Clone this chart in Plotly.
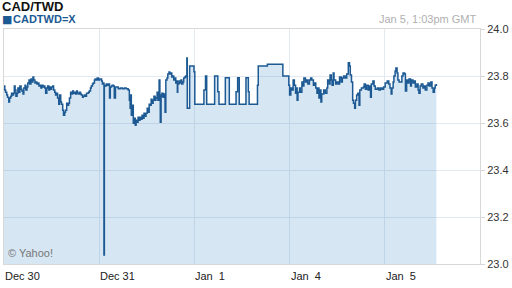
import plotly.graph_objects as go

# Time axis: hours on a compressed trading timeline (weekend removed)
# 0 = Dec 30 00:00, 24 = Dec 31, 48 = Jan 1, 72 = Jan 4, 96 = Jan 5
hours = [
    0, 0.2, 0.4, 0.7, 0.9, 1.2, 1.4, 1.7, 1.9, 2.2, 2.4, 2.6, 2.8, 3.0, 3.3, 3.5, 3.8, 4.0, 4.3, 4.5,
    4.8, 5.0, 5.3, 5.5, 5.8, 6.0, 6.3, 6.5, 6.8, 7.0, 7.3, 7.5, 7.8, 8.0, 8.3, 8.5, 8.8, 9.0, 9.3, 9.5,
    9.8, 10.0, 10.3, 10.5, 10.8, 11.0, 11.3, 11.5, 11.8, 12.0, 12.3, 12.5, 12.8, 13.0, 13.3, 13.5, 13.8,
    14.0, 14.3, 14.5, 14.8, 15.0, 15.3, 15.5, 15.8, 16.0, 16.3, 16.5, 16.8, 17.0, 17.3, 17.5, 17.8, 18.0,
    18.3, 18.5, 18.8, 19.0, 19.3, 19.5, 19.8, 20.0, 20.3, 20.5, 20.8, 21.3, 21.5, 21.8, 22.0, 22.3, 22.5,
    22.8, 23.0, 23.3, 23.5, 23.8, 24.1, 24.3, 24.6, 24.8, 25.1, 25.2, 25.3, 25.6, 25.8, 26.1, 26.3, 26.6,
    26.8, 27.1, 27.3, 27.6, 27.8, 28.1,
    28.3, 28.8, 29.3, 29.8, 30.3, 30.8, 31.3, 31.6, 31.8, 31.9, 32.1, 32.3, 32.6, 32.8, 33.1, 33.3, 33.6,
    33.8, 34.1, 34.3, 34.6, 34.8, 35.1, 35.3, 35.6, 35.8, 36.1, 36.3, 36.6, 36.8, 37.1, 37.3, 37.6, 37.8,
    38.1, 38.3, 38.6, 38.8, 39.1, 39.3, 39.4, 39.6, 39.8, 40.1, 40.3, 40.6, 40.8, 41.1, 41.3, 41.6, 41.8,
    42.1, 42.3, 42.6, 42.8, 43.1, 43.3, 43.6, 43.7, 43.8, 44.1, 44.3, 44.6, 44.8, 45.1, 45.3, 45.6, 45.8,
    46.1, 46.2, 46.8, 47.9,
    48.1, 50.4, 50.8, 51.1, 53.1, 53.9, 54.2, 55.8, 56.8, 58.5, 58.9, 59.3, 61.0, 61.6, 61.8, 63.9, 64.1,
    66.4, 70.3,
    71.8, 72.0, 72.3, 72.6, 72.9, 73.2, 73.5, 73.7, 73.9, 74.1, 74.5, 74.7, 75.1, 75.4, 75.6, 76.0, 76.3,
    76.6, 77.0, 77.3, 77.6, 78.0, 78.3, 78.6, 78.9, 79.1, 79.4, 79.6, 79.9, 80.1, 80.6, 81.0, 81.4, 81.6,
    82.0, 82.2, 82.5, 82.7, 83.0, 83.2, 83.6, 83.9, 84.3, 84.6, 85.0, 85.3,
    85.6, 86.0, 86.4, 86.8, 87.1, 87.3, 87.6, 87.9, 88.1, 88.4, 88.6, 88.9, 89.2, 89.5, 89.7, 90.1, 90.6,
    90.8, 91.1, 91.4, 91.8, 92.1, 92.4, 92.6, 93.0, 93.3, 93.6, 94.1, 94.5, 94.9, 95.3, 95.7, 96.1, 96.6,
    97.0, 97.3, 97.6, 97.8, 98.1, 98.3, 98.6, 98.8, 99.1, 99.3, 99.6, 100.0, 100.3, 100.6, 101.0, 101.2,
    101.5, 101.8, 102.1, 102.5, 102.7, 103.1, 103.4, 103.7, 104.1, 104.4, 104.6, 104.9, 105.2, 105.6,
    105.9, 106.2, 106.6, 106.9, 107.2, 107.6, 107.9, 108.2, 108.5, 108.7, 109.0,
]

prices = [
    23.757, 23.740, 23.731, 23.719, 23.710, 23.689, 23.706, 23.714, 23.727, 23.719, 23.727, 23.757, 23.740,
    23.714, 23.727, 23.749, 23.731, 23.757, 23.744, 23.736, 23.723, 23.749, 23.761, 23.740, 23.753, 23.770,
    23.783, 23.766, 23.787, 23.774, 23.796, 23.783, 23.770, 23.774, 23.766, 23.770, 23.757, 23.761, 23.749,
    23.761, 23.753, 23.757, 23.749, 23.727, 23.749, 23.757, 23.740, 23.753, 23.744, 23.753, 23.757, 23.740,
    23.731, 23.719, 23.727, 23.706, 23.680, 23.719, 23.689, 23.680, 23.654, 23.633, 23.646, 23.654, 23.684,
    23.676, 23.684, 23.706, 23.731, 23.723, 23.736, 23.727, 23.731, 23.723, 23.736, 23.727, 23.723, 23.731,
    23.723, 23.719, 23.710, 23.714, 23.719, 23.714, 23.727, 23.731, 23.736, 23.749, 23.757, 23.766, 23.770,
    23.783, 23.787, 23.783, 23.791, 23.783, 23.787, 23.787, 23.779, 23.766, 23.770, 23.038, 23.761, 23.757,
    23.766, 23.761, 23.766, 23.706, 23.753, 23.757, 23.761, 23.757, 23.706, 23.753,
    23.753, 23.746, 23.749, 23.746, 23.749, 23.746, 23.740, 23.697, 23.663, 23.719, 23.633, 23.676, 23.599,
    23.620, 23.590, 23.612, 23.603, 23.624, 23.612, 23.624, 23.616, 23.633, 23.620, 23.642, 23.629, 23.642,
    23.663, 23.646, 23.680, 23.676, 23.701, 23.684, 23.697, 23.714, 23.697, 23.706, 23.731, 23.697, 23.783,
    23.719, 23.603, 23.714, 23.727, 23.710, 23.723, 23.646, 23.783, 23.791, 23.808, 23.817, 23.808, 23.813,
    23.796, 23.800, 23.783, 23.791, 23.770, 23.779, 23.731, 23.766, 23.779, 23.770, 23.783, 23.766, 23.774,
    23.791, 23.796, 23.800, 23.877, 23.663, 23.843, 23.818,
    23.680, 23.740, 23.800, 23.680, 23.800, 23.733, 23.680, 23.793, 23.680, 23.733, 23.793, 23.680, 23.793,
    23.733, 23.680, 23.761, 23.843, 23.850, 23.800,
    23.761, 23.719, 23.749, 23.740, 23.783, 23.761, 23.727, 23.749, 23.697, 23.731, 23.749, 23.731, 23.774,
    23.757, 23.791, 23.774, 23.783, 23.766, 23.783, 23.791, 23.783, 23.761, 23.770, 23.749, 23.727, 23.749,
    23.706, 23.740, 23.689, 23.723, 23.740, 23.727, 23.749, 23.783, 23.766, 23.804, 23.783, 23.761, 23.813,
    23.783, 23.766, 23.774, 23.766, 23.796, 23.774, 23.791,
    23.800, 23.791, 23.808, 23.856, 23.843, 23.804, 23.774, 23.697, 23.684, 23.663, 23.697, 23.719, 23.727,
    23.676, 23.740, 23.749, 23.753, 23.766, 23.744, 23.761, 23.740, 23.757, 23.710, 23.766, 23.779, 23.757,
    23.744, 23.749, 23.740, 23.749, 23.744, 23.753, 23.770, 23.779, 23.766, 23.749, 23.723, 23.749, 23.774,
    23.800, 23.821, 23.834, 23.813, 23.783, 23.774, 23.774, 23.800, 23.813, 23.808, 23.736, 23.783, 23.770,
    23.787, 23.757, 23.783, 23.770, 23.779, 23.753, 23.766, 23.740, 23.727, 23.757, 23.766, 23.749, 23.757,
    23.740, 23.761, 23.770, 23.757, 23.774, 23.749, 23.731, 23.749, 23.761, 23.766,
]

tick_hours = [0, 24, 48, 72, 96]
tick_labels = ["Dec 30", "Dec 31", "Jan  1", "Jan  4", "Jan  5"]
y_ticks = [23.0, 23.2, 23.4, 23.6, 23.8, 24.0]

FONT = "Arial, Liberation Sans, sans-serif"
LINE = "#1d5a94"

fig = go.Figure()
fig.add_trace(go.Scatter(
    x=hours, y=prices, mode="lines", line=dict(color=LINE, width=1.5, shape="hv"),
    fill="tozeroy", fillcolor="rgba(70,140,200,0.22)", hoverinfo="skip", showlegend=False,
))

fig.update_layout(
    width=512, height=288, margin=dict(l=3, r=30, t=29, b=24),
    paper_bgcolor="white", plot_bgcolor="white",
    font=dict(family=FONT, size=11, color="#333333"),
    xaxis=dict(
        range=[0, 120], tickvals=tick_hours, showticklabels=False,
        showgrid=True, gridcolor="#e2e9f0", gridwidth=1, zeroline=False,
        showline=True, linecolor="#d8d8d8", mirror=True, ticks="",
    ),
    yaxis=dict(
        range=[23.0, 24.0], tickvals=y_ticks, tickformat=".1f", side="right",
        showgrid=True, gridcolor="#e2e9f0", gridwidth=1, zeroline=False,
        showline=True, linecolor="#d8d8d8", mirror=True,
        ticks="outside", ticklen=4, tickcolor="#d8d8d8",
        tickfont=dict(family=FONT, size=11, color="#333333"),
    ),
)

for h, lab in zip(tick_hours, tick_labels):
    fig.add_annotation(x=h, y=0, xref="x", yref="paper", text=lab, showarrow=False,
                       xanchor="left", yanchor="top", xshift=-1, yshift=-4,
                       font=dict(family=FONT, size=11, color="#222222"))

fig.add_annotation(x=0, y=1, xref="paper", yref="paper", text="<b>CAD/TWD</b>",
                   showarrow=False, xanchor="left", yanchor="bottom", xshift=-4, yshift=13,
                   font=dict(family=FONT, size=13, color="#111111"))
fig.add_annotation(x=0, y=1, xref="paper", yref="paper", text="\u25A0",
                   showarrow=False, xanchor="left", yanchor="bottom", xshift=-4, yshift=1,
                   font=dict(family="DejaVu Sans", size=11, color=LINE))
fig.add_annotation(x=0, y=1, xref="paper", yref="paper", text="<b>CADTWD=X</b>",
                   showarrow=False, xanchor="left", yanchor="bottom", xshift=7, yshift=2,
                   font=dict(family=FONT, size=11, color=LINE))
fig.add_annotation(x=1, y=1, xref="paper", yref="paper", text="Jan 5, 1:03pm GMT",
                   showarrow=False, xanchor="right", yanchor="bottom", xshift=-2, yshift=2,
                   font=dict(family=FONT, size=11, color="#b0b0b0"))
fig.add_annotation(x=0, y=0, xref="paper", yref="paper", text="\u00A9 Yahoo!",
                   showarrow=False, xanchor="left", yanchor="bottom", xshift=2, yshift=3,
                   font=dict(family=FONT, size=11, color="#777777"))

fig.write_html("out.html")
